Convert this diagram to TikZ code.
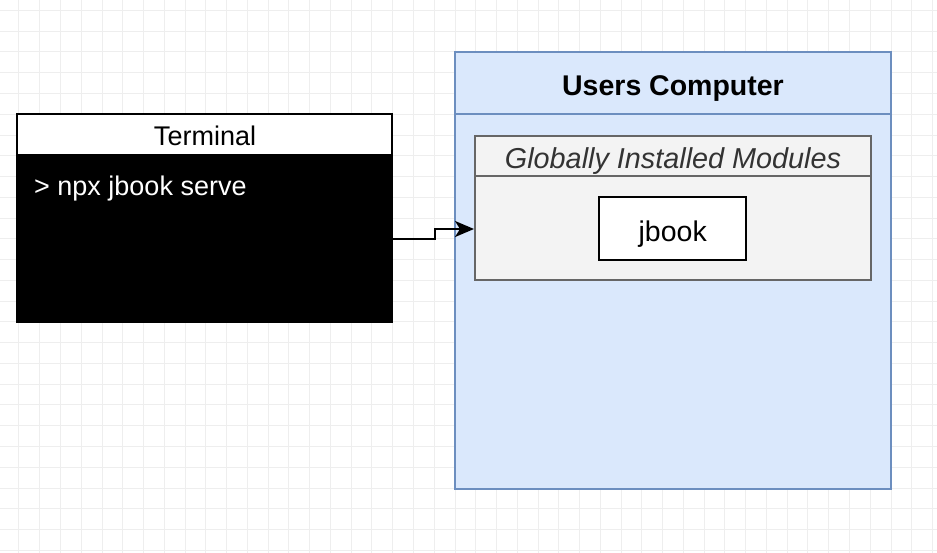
\documentclass[tikz,border=0pt]{standalone}
\usepackage{fontspec}
\setmainfont{Liberation Sans}
\usetikzlibrary{arrows.meta}
\definecolor{gridc}{RGB}{238,238,238}
\definecolor{bluefill}{HTML}{DAE8FC}
\definecolor{blueline}{HTML}{6C8EBF}
\definecolor{grayfill}{HTML}{F3F3F3}
\definecolor{grayline}{HTML}{666666}
\definecolor{graytext}{HTML}{333333}
\tikzset{
  box/.style={rectangle, inner sep=0pt, line width=2pt},
  bluebox/.style={box, draw=blueline, fill=bluefill},
  graybox/.style={box, draw=grayline, fill=grayfill},
  lbl/.style={anchor=base, inner sep=0pt},
  txt/.style={font=\fontsize{27}{30}\selectfont},
  bigtxt/.style={font=\fontsize{28.5}{32}\selectfont},
  conn/.style={line width=2pt, -{Stealth[length=19pt,width=16pt,inset=5pt]}}
}
\begin{document}
\begin{tikzpicture}[x=1pt,y=-1pt]
\useasboundingbox (0,0) rectangle (937,553);
\fill[white] (0,0) rectangle (937,553);
% grid
\foreach \i in {0,...,45} {
  \draw[gridc, line width=1pt] ({455-21*20.762+\i*20.762},0) -- ++(0,553);
}
\foreach \j in {0,...,27} {
  \draw[gridc, line width=1pt] (0,{52-2*20.762+\j*20.762}) -- ++(937,0);
}
% Terminal
\node[box, draw=black, fill=black, minimum width=375pt, minimum height=208pt] (term) at (204.5,218) {};
\node[box, draw=black, fill=white, minimum width=375pt, minimum height=41pt] (termhead) at (204.5,134.5) {};
\node[lbl, txt] (termlbl) at (205,146) {Terminal};
\node[anchor=base west, inner sep=0pt, text=white, txt] (cmd) at (34,196) {> npx jbook serve};
% Users Computer
\node[bluebox, minimum width=436pt, minimum height=437pt] (uc) at (673,270.5) {};
\node[bluebox, minimum width=436pt, minimum height=62pt] (uchead) at (673,83) {};
\node[lbl, font=\fontsize{28.5}{32}\selectfont\bfseries] (uclbl) at (673,96) {Users Computer};
% Globally installed modules
\node[graybox, minimum width=396pt, minimum height=144.5pt] (gim) at (673,208) {};
\node[graybox, minimum width=396pt, minimum height=40.5pt] (gimhead) at (673,156) {};
\node[lbl, text=graytext, font=\fontsize{28.8}{32}\selectfont\itshape] (gimlbl) at (673,168.5) {Globally Installed Modules};
\node[box, draw=black, fill=white, minimum width=146.5pt, minimum height=62.5pt] (jbook) at (672.7,228.7) {};
\node[lbl, bigtxt] (jbooklbl) at (672.7,242) {jbook};
% connector
\draw[conn] ([yshift=-21pt]term.east) -- ++(42,0) |- ([yshift=-21pt]gim.west);
\end{tikzpicture}
\end{document}
